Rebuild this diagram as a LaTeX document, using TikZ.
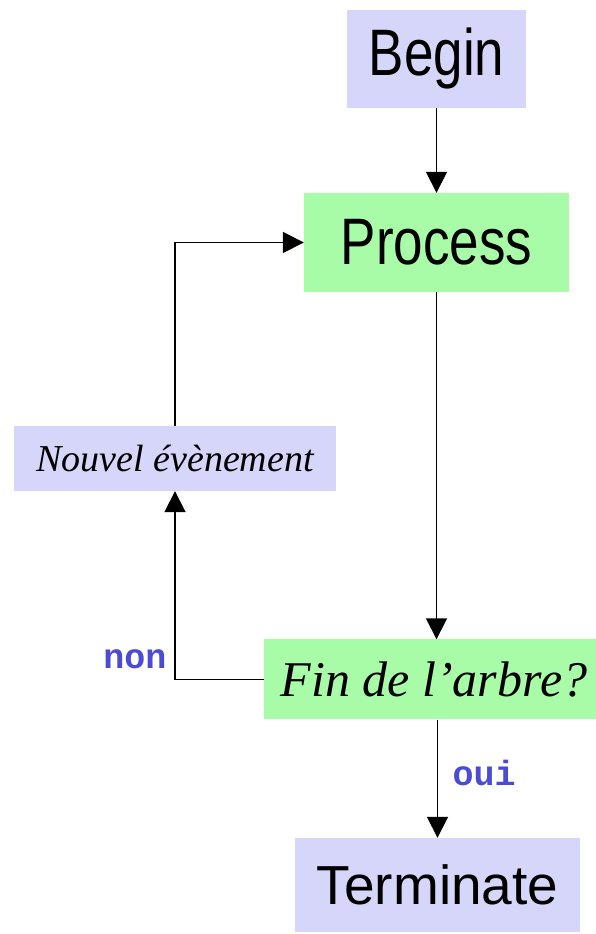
\documentclass[tikz,border=0pt]{standalone}
\usepackage{fontspec}
\setmainfont{Liberation Serif}
\setsansfont{Liberation Sans}
\setmonofont{Liberation Mono}
\usetikzlibrary{arrows.meta}
\definecolor{lav}{HTML}{D6D6FA}
\definecolor{mint}{HTML}{A8FCA8}
\definecolor{lblue}{HTML}{4B4BD6}
\begin{document}
\begin{tikzpicture}[x=1pt,y=1pt,
  blockbox/.style={inner sep=0pt, draw=none},
  lavbox/.style={blockbox, fill=lav},
  mintbox/.style={blockbox, fill=mint},
  bigword/.style={font=\sffamily\fontsize{53}{60}\selectfont},
  answer/.style={font=\ttfamily\bfseries\fontsize{35}{40}\selectfont, text=lblue, inner sep=0pt},
  flow/.style={line width=1.8pt, -{Triangle[length=21pt,width=21pt]}}]
\fill[white] (0,0) rectangle (596,934);
\useasboundingbox (0,0) rectangle (596,934);

\node[lavbox, minimum width=179pt, minimum height=98pt, bigword] (begin) at (436.5,875) {\scalebox{1}[1.24]{Begin}};
\node[mintbox, minimum width=265pt, minimum height=99pt, bigword] (process) at (436.5,691.5) {\scalebox{1}[1.24]{Process}};
\node[lavbox, minimum width=322pt, minimum height=65pt, font=\rmfamily\itshape\fontsize{38}{44}\selectfont] (nouvel) at (175,475.5) {Nouvel évènement};
\node[mintbox, minimum width=332pt, minimum height=80pt, font=\rmfamily\itshape\fontsize{50}{58}\selectfont] (fin) at (430,254.5) {\hspace*{8pt}Fin de l’arbre?};
\node[lavbox, minimum width=285pt, minimum height=94pt, font=\sffamily\fontsize{55}{64}\selectfont] (term) at (437.5,49) {Terminate};

\node[answer] (non) at (135,275) {non};
\node[answer] (oui) at (484,161) {oui};

\draw[flow] (begin.south) -- (process.north);
\draw[flow] (process.south) -- (process.south |- fin.north);
\draw[flow] (term.north |- fin.south) -- (term.north);
\draw[flow] (fin.west) -| (nouvel.south);
\draw[flow] (nouvel.north) |- (process.west);
\end{tikzpicture}
\end{document}
